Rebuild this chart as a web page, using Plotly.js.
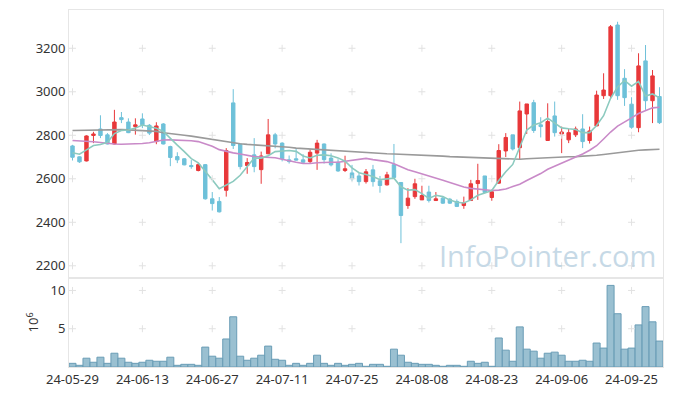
<!DOCTYPE html>
<html>
<head>
<meta charset="utf-8">
<script src="https://cdn.plot.ly/plotly-3.0.1.min.js"></script>
<style>html,body{margin:0;padding:0;background:#fff;}#chart{width:673px;height:396px;}</style>
</head>
<body>
<div id="chart"></div>
<script>
const dates = ['24-05-29','24-05-30','24-05-31','24-06-03','24-06-04','24-06-05','24-06-07','24-06-10','24-06-11','24-06-12',
'24-06-13','24-06-14','24-06-17','24-06-18','24-06-19','24-06-20','24-06-21','24-06-24','24-06-25','24-06-26',
'24-06-27','24-06-28','24-07-01','24-07-02','24-07-03','24-07-04','24-07-05','24-07-08','24-07-09','24-07-10',
'24-07-11','24-07-12','24-07-15','24-07-16','24-07-17','24-07-18','24-07-19','24-07-22','24-07-23','24-07-24',
'24-07-25','24-07-26','24-07-29','24-07-30','24-07-31','24-08-01','24-08-02','24-08-05','24-08-06','24-08-07',
'24-08-08','24-08-09','24-08-12','24-08-13','24-08-14','24-08-16','24-08-19','24-08-20','24-08-21','24-08-22',
'24-08-23','24-08-26','24-08-27','24-08-28','24-08-29','24-08-30','24-09-02','24-09-03','24-09-04','24-09-05',
'24-09-06','24-09-09','24-09-10','24-09-11','24-09-12','24-09-13','24-09-19','24-09-20','24-09-23','24-09-24',
'24-09-25','24-09-26','24-09-27','24-09-30','24-10-02'];

const openP = [2751,2701,2682,2799,2829,2802,2760,2881,2861,2840,
2875,2846,2771,2852,2748,2702,2692,2661,2638,2665,
2508,2496,2547,2949,2760,2661,2710,2642,2715,2802,
2764,2687,2692,2687,2679,2718,2760,2695,2676,2638,
2627,2613,2587,2641,2591,2572,2665,2583,2477,2518,
2503,2539,2500,2511,2506,2496,2477,2500,2578,2613,
2514,2580,2728,2802,2743,2898,2950,2848,2776,2889,
2806,2779,2802,2829,2776,2843,2982,2982,3307,3062,
2943,2835,3142,2959,2978];
const highP = [2756,2703,2800,2816,2892,2810,2917,2907,2878,2878,
2901,2852,2860,2856,2752,2722,2695,2686,2674,2668,
2539,2516,2741,3012,2760,2695,2787,2725,2875,2811,
2768,2707,2741,2713,2736,2779,2762,2717,2690,2706,
2664,2626,2645,2664,2613,2632,2760,2583,2557,2600,
2568,2568,2539,2520,2512,2505,2518,2595,2669,2613,
2550,2759,2810,2802,2955,2944,2963,2883,2947,2955,
2840,2829,2840,2897,2840,3005,3085,3307,3322,3104,
2975,3177,3215,3100,3021];
const lowP = [2684,2673,2680,2764,2787,2758,2758,2856,2810,2803,
2833,2801,2759,2758,2658,2672,2662,2646,2634,2504,
2454,2445,2518,2737,2643,2623,2630,2577,2713,2740,
2680,2670,2683,2669,2669,2641,2670,2657,2632,2631,
2589,2569,2578,2564,2536,2569,2604,2304,2462,2508,
2503,2491,2498,2484,2484,2470,2462,2500,2503,2534,
2499,2577,2700,2730,2690,2806,2811,2790,2776,2794,
2718,2764,2792,2741,2762,2843,2967,2967,2963,2935,
2830,2814,2917,2856,2852];
const closeP = [2699,2678,2797,2806,2799,2760,2861,2872,2812,2848,
2848,2810,2843,2760,2698,2687,2664,2656,2665,2508,
2486,2448,2730,2753,2656,2675,2656,2705,2802,2760,
2692,2679,2686,2676,2722,2764,2688,2664,2636,2646,
2600,2587,2632,2587,2569,2618,2606,2431,2511,2577,
2523,2500,2508,2488,2488,2473,2489,2577,2592,2537,
2540,2730,2790,2737,2912,2944,2822,2840,2863,2812,
2815,2812,2829,2771,2820,2985,3008,3299,2982,2973,
2837,3119,2959,3073,2858];

// volume in units of 10^6
const volume = [0.48,0.22,1.15,0.62,1.28,0.48,1.80,1.15,0.62,0.48,
0.62,0.88,0.75,0.75,1.28,0.22,0.35,0.35,0.22,2.60,
1.41,1.15,3.66,6.56,1.41,0.88,1.15,1.54,2.73,1.01,
0.88,0.22,0.48,0.22,0.48,1.54,0.48,0.22,0.48,0.22,
0.35,0.48,0.09,0.35,0.35,0.09,2.33,1.54,0.62,0.48,
0.35,0.35,0.22,0.09,0.22,0.22,0.09,0.75,0.48,0.62,
0.09,3.79,2.20,0.75,5.24,2.33,2.07,1.15,1.80,1.94,
1.54,0.75,0.75,0.88,0.75,3.13,2.47,10.66,6.96,2.33,
2.47,5.50,7.89,5.90,3.39];

const ma5 = [2720,2713,2733,2753,2758,2768,2808,2822,2824,2833,
2847,2838,2832,2818,2785,2755,2725,2693,2673,2636,
2596,2554,2572,2588,2616,2653,2695,2695,2706,2725,
2728,2730,2726,2705,2696,2708,2710,2706,2696,2681,
2650,2628,2620,2610,2596,2600,2603,2563,2548,2550,
2532,2510,2524,2518,2502,2492,2489,2503,2524,2535,
2546,2592,2632,2666,2742,2824,2847,2858,2879,2858,
2834,2830,2827,2812,2812,2845,2890,2970,3022,3052,
3026,3048,2980,2990,2972];
const ma20 = [2776,2775,2773,2770,2767,2763,2760,2759,2759,2760,
2762,2766,2771,2778,2779,2778,2777,2775,2771,2762,
2750,2734,2725,2719,2714,2708,2702,2700,2699,2697,
2690,2682,2676,2670,2670,2674,2676,2676,2676,2680,
2685,2690,2694,2688,2682,2679,2669,2655,2642,2632,
2623,2613,2604,2593,2583,2572,2562,2556,2552,2549,
2546,2548,2553,2564,2575,2592,2608,2624,2644,2658,
2672,2685,2700,2714,2731,2752,2783,2815,2842,2863,
2880,2900,2914,2926,2929];
const ma60 = [2822,2823,2824,2825,2825,2826,2826,2826,2825,2824,
2822,2820,2818,2812,2809,2805,2800,2796,2791,2785,
2779,2773,2769,2765,2761,2758,2756,2754,2753,2751,
2748,2745,2741,2739,2736,2733,2730,2728,2726,2724,
2722,2720,2719,2718,2716,2715,2714,2713,2711,2710,
2709,2707,2706,2704,2702,2701,2699,2698,2696,2695,
2693,2692,2691,2690,2690,2692,2694,2696,2698,2699,
2700,2701,2702,2703,2705,2708,2712,2716,2720,2725,
2729,2731,2733,2735,2736];

const xTicks = ['24-05-29','24-06-13','24-06-27','24-07-11','24-07-25','24-08-08','24-08-23','24-09-06','24-09-25'];
const priceTicks = [2200,2400,2600,2800,3000,3200];
const volTicks = [5,10];

const upColor = '#E8383A';
const downColor = '#6EC1D9';

// grid crosses built from tick arrays
const gx1 = [], gy1 = [], gx2 = [], gy2 = [];
xTicks.forEach(t => {
  priceTicks.forEach(p => { gx1.push(t); gy1.push(p); });
  volTicks.forEach(v => { gx2.push(t); gy2.push(v); });
});

const traces = [
  {type:'bar', x:dates, y:volume, xaxis:'x2', yaxis:'y2',
   marker:{color:'rgba(140,183,203,0.88)', line:{color:'#6a9db6', width:1}}, showlegend:false},
  {type:'scatter', mode:'lines', x:dates, y:ma60, xaxis:'x', yaxis:'y', line:{color:'#9a9a9a', width:1.6}, showlegend:false},
  {type:'scatter', mode:'lines', x:dates, y:ma20, xaxis:'x', yaxis:'y', line:{color:'#C98AC8', width:1.6}, showlegend:false},
  {type:'scatter', mode:'lines', x:dates, y:ma5, xaxis:'x', yaxis:'y', line:{color:'#8CCABF', width:1.6}, showlegend:false},
  {type:'candlestick', x:dates, open:openP, high:highP, low:lowP, close:closeP, xaxis:'x', yaxis:'y',
   increasing:{line:{color:upColor, width:1}, fillcolor:upColor},
   decreasing:{line:{color:downColor, width:1}, fillcolor:downColor},
   whiskerwidth:0, showlegend:false},
  {type:'scatter', mode:'markers', x:gx1, y:gy1, xaxis:'x', yaxis:'y', hoverinfo:'skip',
   marker:{symbol:'cross-thin', size:5, line:{color:'#e2e2e2', width:1}}, showlegend:false},
  {type:'scatter', mode:'markers', x:gx2, y:gy2, xaxis:'x2', yaxis:'y2', hoverinfo:'skip',
   marker:{symbol:'cross-thin', size:5, line:{color:'#e2e2e2', width:1}}, showlegend:false}
];

const axisFont = {family:'Noto Sans, Open Sans, sans-serif', size:13, color:'#333'};

const layout = {
  width:673, height:396,
  margin:{l:69, r:10, t:10, b:29},
  paper_bgcolor:'#ffffff', plot_bgcolor:'#ffffff',
  showlegend:false,
  bargap:0,
  font:axisFont,
  xaxis:{type:'category', categoryorder:'array', categoryarray:dates, anchor:'y', range:[-0.5,84.5],
         showticklabels:false, showgrid:false, zeroline:false,
         showline:true, mirror:true, linecolor:'#e6e6e6', linewidth:1, ticks:'',
         rangeslider:{visible:false}, tickmode:'array', tickvals:xTicks},
  yaxis:{domain:[0.25,1], anchor:'x', range:[2145,3376], tickmode:'array', tickvals:priceTicks,
         showgrid:false, zeroline:false, showline:true, mirror:true, linecolor:'#e6e6e6', linewidth:1,
         ticks:'', tickfont:axisFont},
  xaxis2:{type:'category', categoryorder:'array', categoryarray:dates, anchor:'y2', matches:'x', range:[-0.5,84.5],
          showgrid:false, zeroline:false,
          showline:true, mirror:true, linecolor:'#e6e6e6', linewidth:1, ticks:'',
          tickmode:'array', tickvals:xTicks, ticktext:xTicks, tickangle:0, tickfont:axisFont},
  yaxis2:{domain:[0,0.25], anchor:'x2', range:[0,11.66], tickmode:'array', tickvals:volTicks,
          showgrid:false, zeroline:false, showline:true, mirror:true, linecolor:'#e6e6e6', linewidth:1,
          ticks:'', tickfont:axisFont,
          title:{text:'10<sup>6</sup>', font:axisFont, standoff:8}},
  annotations:[{text:'InfoPointer.com', xref:'paper', yref:'paper', x:0.806, y:0.313,
                xanchor:'center', yanchor:'middle', showarrow:false,
                font:{family:'Open Sans, Noto Sans, sans-serif', size:29, color:'rgba(180,205,222,0.75)'}}]
};

Plotly.newPlot('chart', traces, layout, {displayModeBar:false, staticPlot:true});
</script>
</body>
</html>
